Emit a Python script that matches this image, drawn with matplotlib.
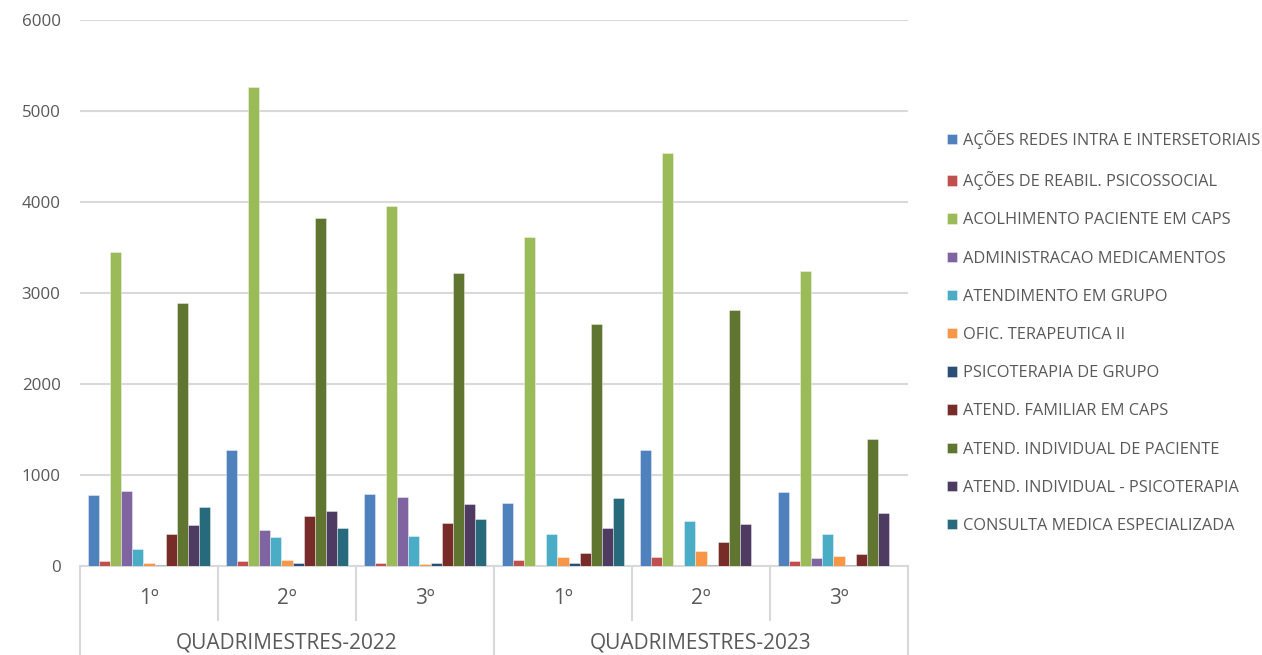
import matplotlib
matplotlib.use("Agg")
import matplotlib.pyplot as plt
import numpy as np

years = ["QUADRIMESTRES-2022", "QUADRIMESTRES-2023"]
quads = ["1º", "2º", "3º"]

series_names = [
    "AÇÕES REDES INTRA E INTERSETORIAIS",
    "AÇÕES DE REABIL. PSICOSSOCIAL",
    "ACOLHIMENTO PACIENTE EM CAPS",
    "ADMINISTRACAO MEDICAMENTOS",
    "ATENDIMENTO EM GRUPO",
    "OFIC. TERAPEUTICA II",
    "PSICOTERAPIA DE GRUPO",
    "ATEND. FAMILIAR EM CAPS",
    "ATEND. INDIVIDUAL DE PACIENTE",
    "ATEND. INDIVIDUAL - PSICOTERAPIA",
    "CONSULTA MEDICA ESPECIALIZADA",
]

acoes_redes = [780, 1280, 790, 690, 1280, 810]
acoes_reabil = [50, 60, 35, 65, 100, 50]
acolhimento = [3455, 5260, 3955, 3615, 4540, 3245]
administracao = [825, 395, 755, 0, 0, 85]
atend_grupo = [185, 320, 335, 350, 495, 350]
ofic_terapeutica = [30, 65, 20, 100, 170, 105]
psicoterapia_grupo = [15, 35, 30, 35, 15, 15]
atend_familiar = [350, 550, 470, 140, 265, 130]
atend_individual = [2890, 3820, 3220, 2660, 2810, 1400]
atend_psicoterapia = [455, 600, 680, 415, 460, 585]
consulta_medica = [645, 420, 515, 750, 0, 0]

values = [acoes_redes, acoes_reabil, acolhimento, administracao, atend_grupo,
          ofic_terapeutica, psicoterapia_grupo, atend_familiar, atend_individual,
          atend_psicoterapia, consulta_medica]

colors = ["#4F81BD", "#C0504D", "#9BBB59", "#8064A2", "#4BACC6", "#F79646",
          "#2C4D75", "#772C2A", "#5F7530", "#4D3B62", "#276A7C"]

plt.rcParams['font.family'] = ['Open Sans', 'DejaVu Sans']
text_color = "#595959"
grid_color = "#D9D9D9"

fig = plt.figure(figsize=(12.62, 6.55), dpi=100)
ax = fig.add_axes([80/1262, 1-566/655, (908-80)/1262, (566-20)/655])

n_groups = len(years) * len(quads)
x = np.arange(n_groups)
n_series = len(values)
bw = 0.0805
offsets = (np.arange(n_series) - (n_series - 1) / 2) * bw

handles = []
for i, (name, vals, col) in enumerate(zip(series_names, values, colors)):
    b = ax.bar(x + offsets[i], vals, width=bw, color=col, label=name,
               edgecolor=(1, 1, 1, 0.45), linewidth=0.6, zorder=3)
    handles.append(b)

ax.set_xlim(-0.5, n_groups - 0.5)
ax.set_ylim(0, 6000)
ax.set_yticks(np.arange(0, 6001, 1000))
ax.yaxis.grid(True, color=grid_color, linewidth=1.5, zorder=0)
ax.set_axisbelow(True)
for s in ["top", "right", "left"]:
    ax.spines[s].set_visible(False)
ax.spines["bottom"].set_color(grid_color)
ax.spines["bottom"].set_linewidth(1.5)
ax.tick_params(axis="y", length=0, labelsize=12.2, labelcolor=text_color, pad=14)
ax.tick_params(axis="x", length=0, labelbottom=False)

# multi-level category labels
trans = ax.get_xaxis_transform()
ax_h = 566 - 20
for gi in range(n_groups):
    ax.text(gi, -32/ax_h, quads[gi % len(quads)], transform=trans, ha="center",
            va="center", fontsize=15, color=text_color)
for yi, yname in enumerate(years):
    cx = yi * len(quads) + (len(quads) - 1) / 2
    ax.text(cx, -77/ax_h, yname, transform=trans, ha="center", va="center",
            fontsize=15, color=text_color)

# separator lines
for b in np.arange(-0.5, n_groups, 1.0):
    if abs((b + 0.5) % len(quads)) < 1e-9:
        y_end = -(655 - 566) / ax_h
    else:
        y_end = -54 / ax_h
    ax.plot([b, b], [0, y_end], transform=trans, color=grid_color,
            linewidth=1.5, clip_on=False)

leg = ax.legend(handles=handles, loc="upper left",
                bbox_to_anchor=(947/1262, 1 - 130/655), bbox_transform=fig.transFigure,
                frameon=False, fontsize=11.8, labelcolor=text_color,
                handlelength=0.6, handleheight=0.6, handletextpad=0.35,
                labelspacing=1.355, borderaxespad=0, borderpad=0)

fig.savefig("out.png", dpi=100, facecolor="white")
